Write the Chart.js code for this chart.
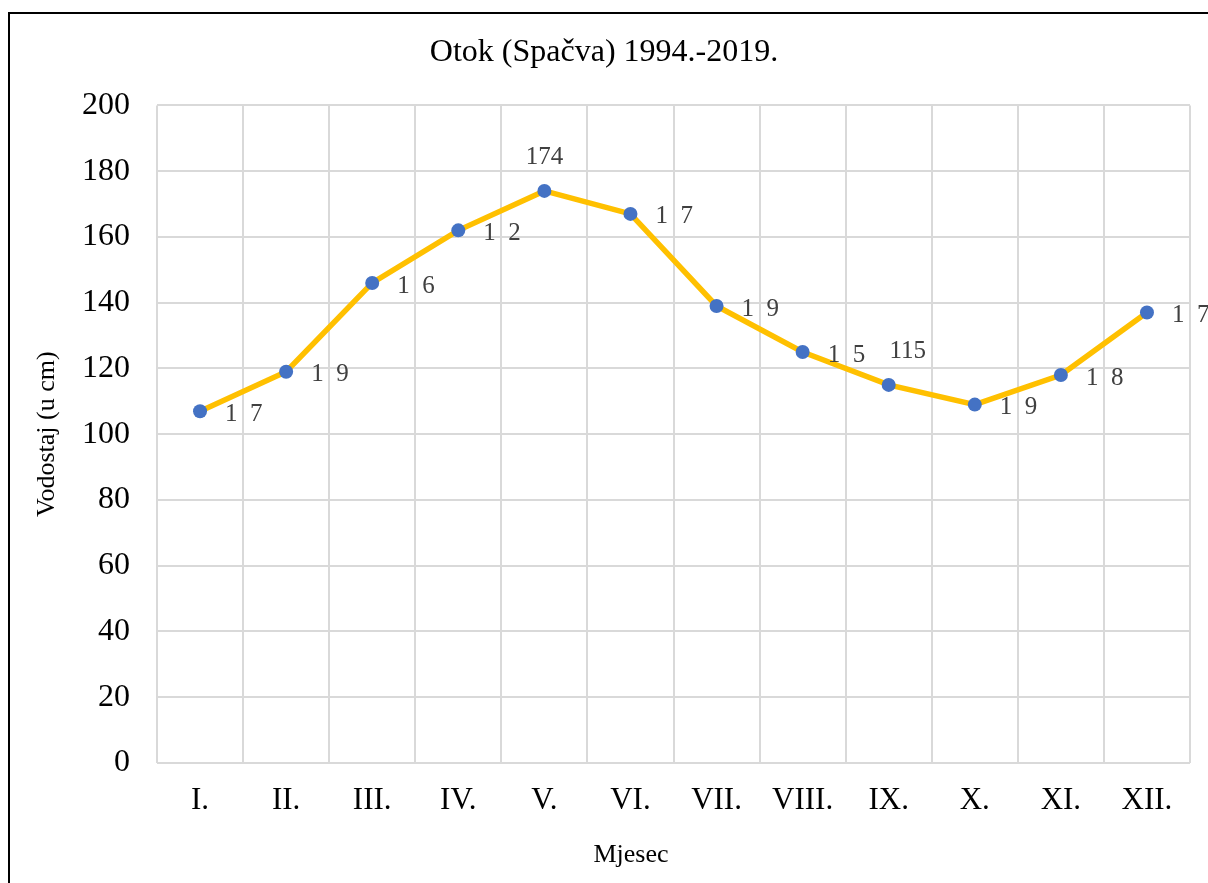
<!DOCTYPE html>
<html>
<head>
<meta charset="utf-8">
<script src="https://cdn.jsdelivr.net/npm/chart.js@4.4.0/dist/chart.umd.min.js"></script>
<style>
    html, body { margin: 0; padding: 0; background: #fff; }
    #wrap { position: relative; width: 1208px; height: 883px; overflow: hidden; }
    #frame { position: absolute; left: 8px; top: 12px; width: 1300px; height: 1000px;
             border-left: 2px solid #000; border-top: 2px solid #000; pointer-events: none; }
</style>
</head>
<body>
<div id="wrap">
    <canvas id="vodostaj-chart" width="1208" height="883"></canvas>
    <div id="frame"></div>
</div>
<script>
const months = ['I.', 'II.', 'III.', 'IV.', 'V.', 'VI.', 'VII.', 'VIII.', 'IX.', 'X.', 'XI.', 'XII.'];
const levels = [107, 119, 146, 162, 174, 167, 139, 125, 115, 109, 118, 137];
// labels as they show up in the picture (middle digit is blank on most)
const pointLabels = ['1  7', '1  9', '1  6', '1  2', '174', '1  7', '1  9', '1  5', '115', '1  9', '1  8', '1  7'];
const labelSide = ['right', 'right', 'right', 'right', 'top', 'right', 'right', 'right', 'top', 'right', 'right', 'right'];
const yTicks = [0, 20, 40, 60, 80, 100, 120, 140, 160, 180, 200];

const serif = '"Liberation Serif", "Times New Roman", serif';

// data labels next to the points, plus the x axis title (sits left of centre)
const pointLabelPlugin = {
    id: 'pointLabels',
    afterDatasetsDraw(chart) {
        let ctx = chart.ctx;
        let meta = chart.getDatasetMeta(0);
        ctx.save();
        ctx.font = '25px ' + serif;
        ctx.fillStyle = '#404040';
        ctx.textBaseline = 'middle';
        meta.data.forEach((pt, i) => {
            if (labelSide[i] === 'top') {
                ctx.textAlign = 'center';
                ctx.fillText(pointLabels[i], pt.x + (i === 8 ? 19 : 0), pt.y - 33);
            } else {
                ctx.textAlign = 'left';
                ctx.fillText(pointLabels[i], pt.x + 25, pt.y + 3);
            }
        });
        ctx.font = '26px ' + serif;
        ctx.fillStyle = '#000';
        ctx.textAlign = 'center';
        ctx.fillText('Mjesec', 631, 855);
        ctx.restore();
    }
};

let ctx = document.getElementById('vodostaj-chart').getContext('2d');
// eslint-disable-next-line no-undef
new Chart(ctx, {
    type: 'line',
    data: {
        labels: months,
        datasets: [{
            label: 'Vodostaj',
            data: levels,
            borderColor: '#FFC000',
            borderWidth: 5.5,
            tension: 0,
            pointRadius: 7,
            pointHoverRadius: 7,
            pointBackgroundColor: '#4472C4',
            pointBorderColor: '#4472C4',
            pointBorderWidth: 0
        }]
    },
    plugins: [pointLabelPlugin],
    options: {
        responsive: false,
        animation: false,
        layout: { padding: { left: 18, right: 18, top: 0, bottom: 0 } },
        plugins: {
            legend: { display: false },
            tooltip: { enabled: false },
            title: {
                display: true,
                text: 'Otok (Spačva) 1994.-2019.',
                color: '#000',
                font: { family: serif, size: 32, weight: 'normal' },
                padding: { top: 33, bottom: 34 }
            }
        },
        scales: {
            x: {
                offset: true,
                grid: { color: '#D9D9D9', lineWidth: 2, drawTicks: false, offset: true },
                border: { display: false },
                ticks: { color: '#000', font: { family: serif, size: 31 }, padding: 19, maxRotation: 0 },
                afterFit(scale) { scale.height = 120; }
            },
            y: {
                min: 0,
                max: 200,
                afterBuildTicks(scale) { scale.ticks = yTicks.map(v => ({ value: v })); },
                grid: { color: '#D9D9D9', lineWidth: 2, drawTicks: false },
                border: { display: false },
                ticks: { color: '#000', font: { family: serif, size: 32 }, padding: 27 },
                title: {
                    display: true,
                    text: 'Vodostaj (u cm)',
                    color: '#000',
                    font: { family: serif, size: 26 },
                    padding: { top: 14, bottom: 0 }
                },
                afterFit(scale) { scale.width = 139; }
            }
        }
    }
});
</script>
</body>
</html>
